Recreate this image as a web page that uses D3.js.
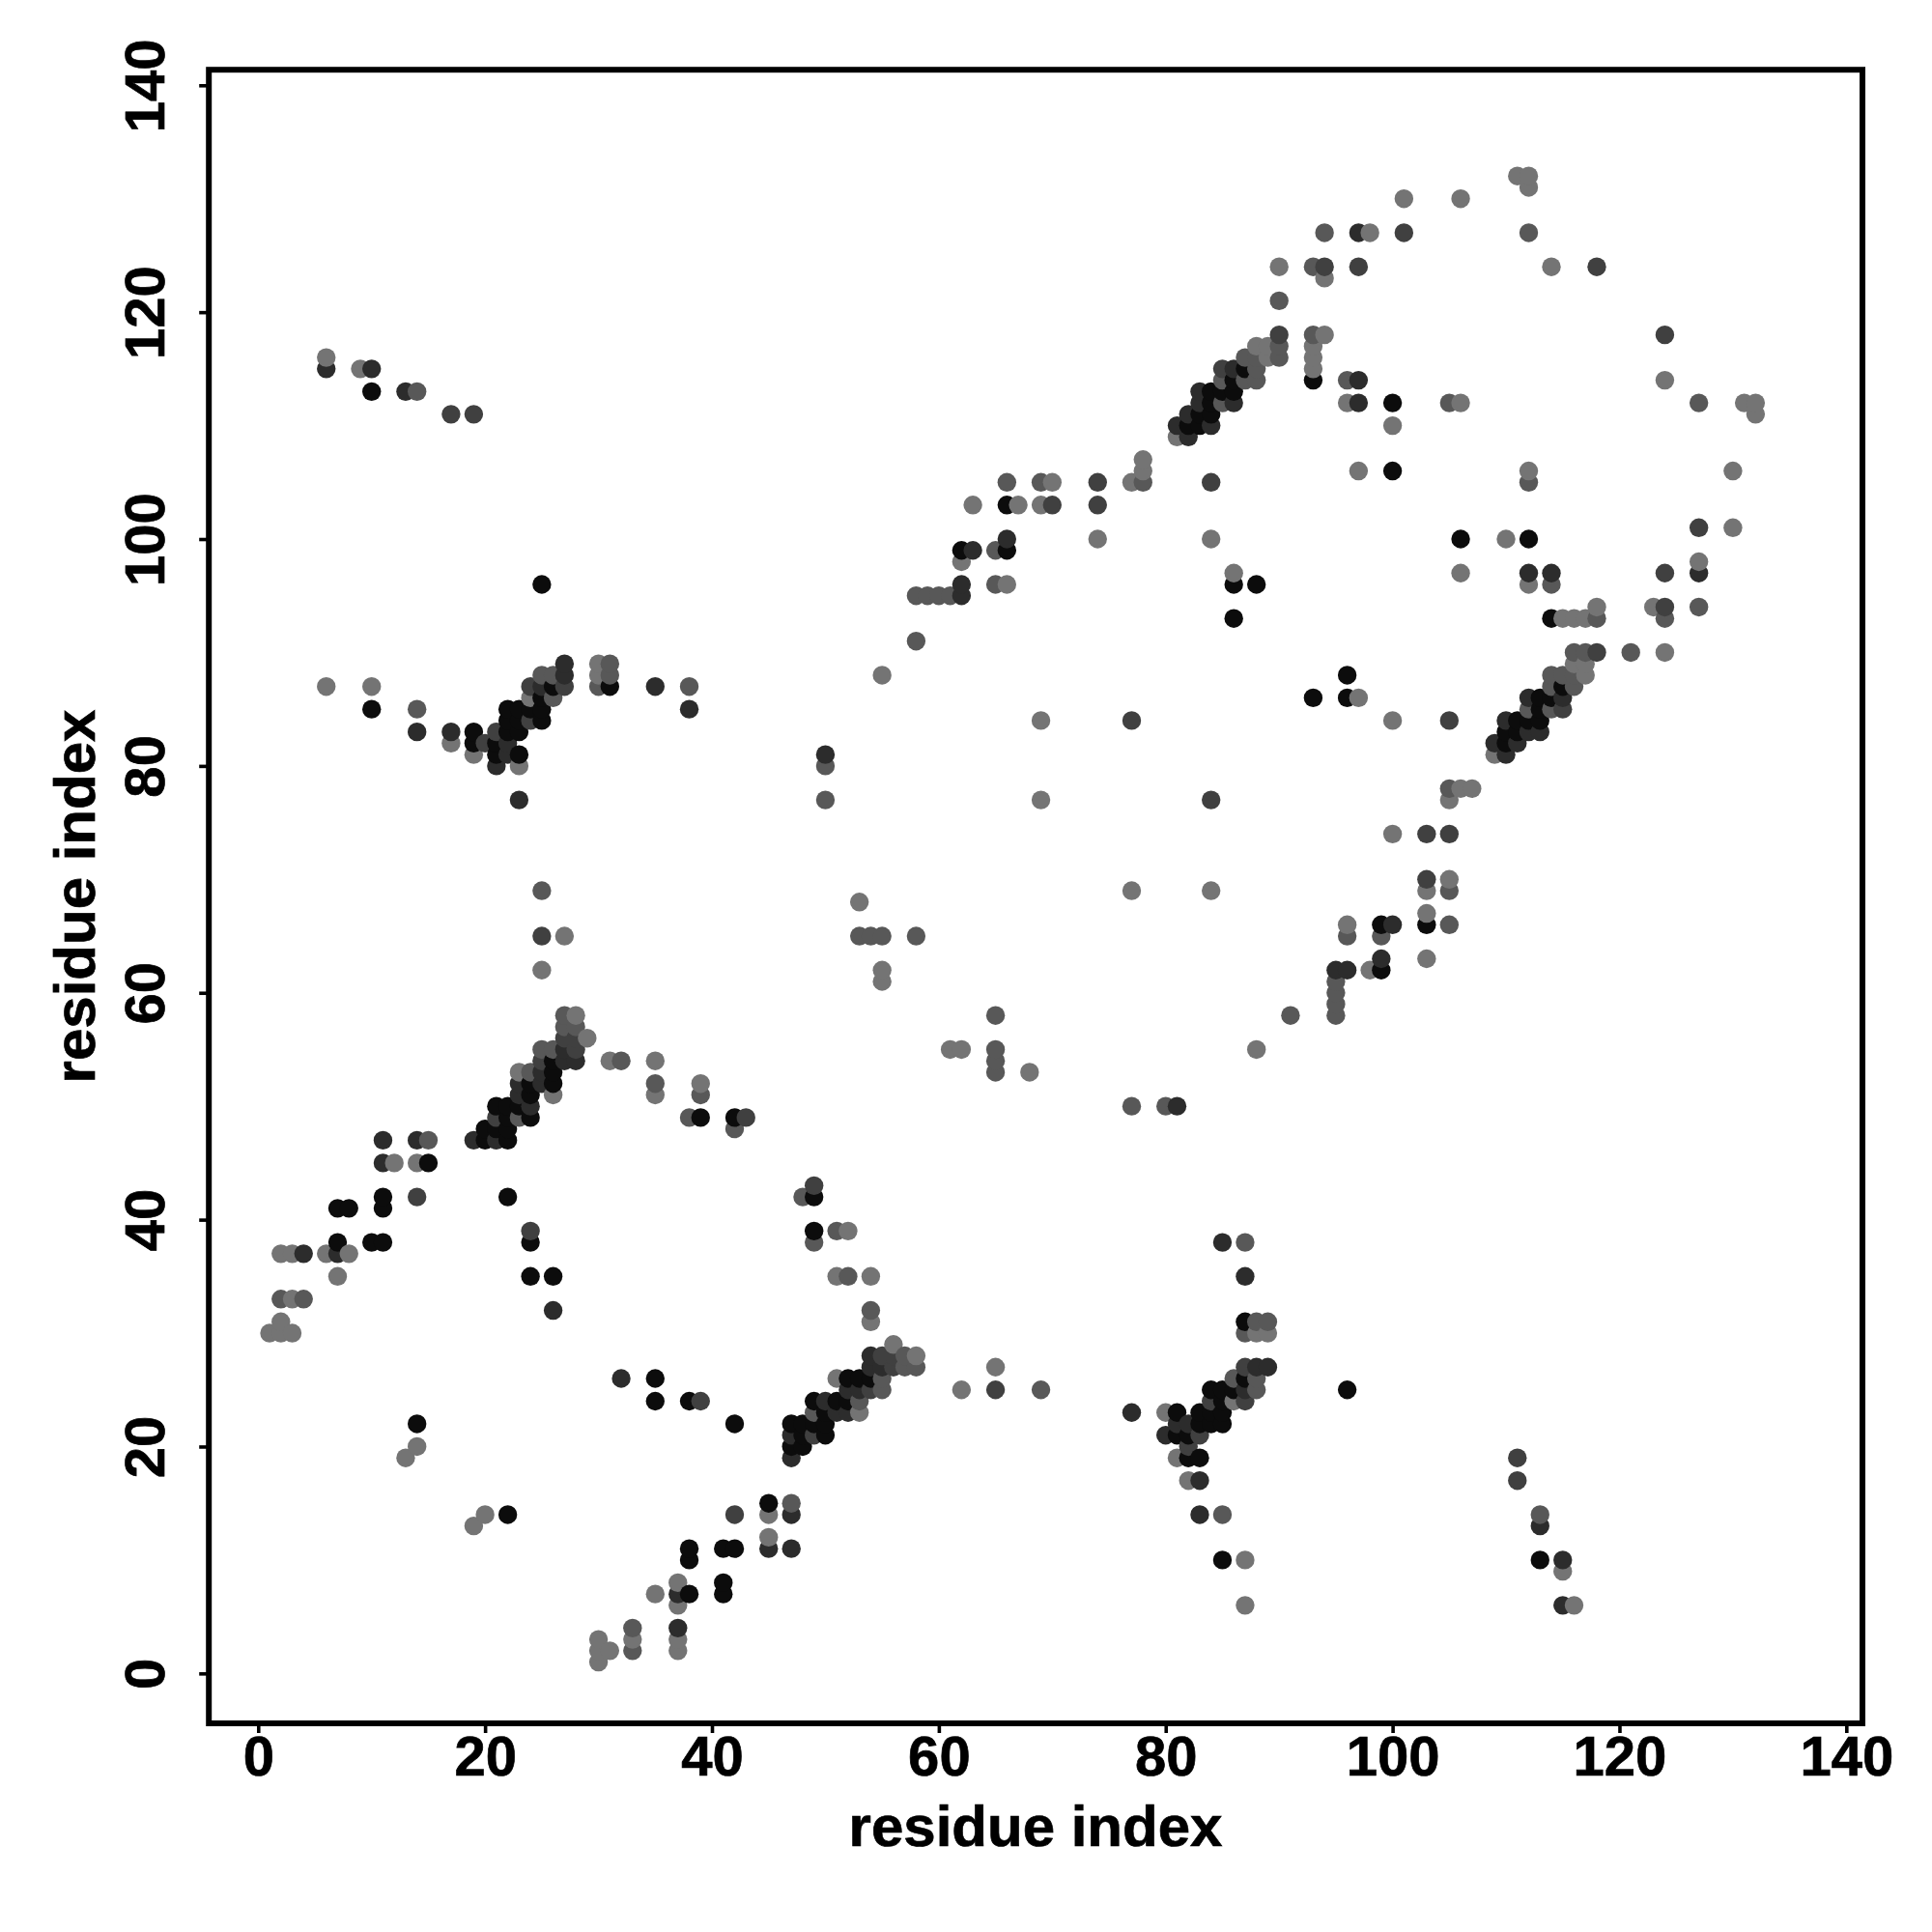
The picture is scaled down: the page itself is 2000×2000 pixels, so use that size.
<!DOCTYPE html>
<html><head><meta charset="utf-8">
<style>html,body{margin:0;padding:0;background:#fff}svg{display:block}</style>
<script src="https://cdn.jsdelivr.net/npm/d3@7"></script>
</head><body><svg id="c" width="2000" height="2000"></svg>
<script>
// Each contact: [residue i, residue j, intensity level] with i<j; the map is symmetric.
const contactsScattered = [
[1,30,4],[2,30,4],[3,30,4],[2,31,4],[2,33,3],[3,33,4],[4,33,3],[2,37,4],[3,37,4],[4,37,1],[6,37,4],[7,37,1],[8,37,4],[7,35,4],[7,38,0],[7,41,0],[8,41,0],[10,38,0],[11,38,0],[11,41,0],[11,42,0],[11,45,1],[12,45,4],[14,45,4],[15,45,0],[11,47,1],[14,47,1],[15,47,3],[14,42,2],[13,19,4],[14,20,4],[14,22,0],
[6,87,4],[10,87,4],[10,85,0],[14,85,3],[14,83,1],[25,96,0],[25,69,3],[25,65,2],[25,62,4],[27,65,4],[6,116,4],[6,115,1],[9,115,4],[10,115,1],[10,113,0],[13,113,1],[14,113,3],[17,111,2],[19,111,2],
[22,42,0],[24,39,2],[24,38,0],[24,35,0],[26,35,0],[26,32,1]];
const contactsClusterA = [
[17,83,1],[17,82,4],[19,83,0],[19,82,0],[19,81,4],[20,82,2],[21,83,2],[21,82,0],[21,81,0],[21,80,1],[22,85,0],[22,84,0],[22,83,0],[22,82,1],[22,81,1],[23,85,0],[23,84,0],[23,83,0],[23,81,0],[23,80,4],[23,77,1],[24,87,2],[24,86,4],[24,85,0],[24,84,2],[25,88,3],[25,87,1],[25,86,0],[25,85,0],[25,84,0],[26,88,3],[26,87,0],[26,86,3],[27,89,1],[27,88,1],[27,87,2],
[30,89,4],[30,88,4],[30,87,3],[31,89,3],[31,88,3],[31,87,0],[35,87,1],[38,87,3],[38,85,1]];
const contactsClusterB = [
[19,47,1],[20,47,0],[20,48,0],[21,47,1],[21,48,0],[21,49,2],[21,50,0],[22,47,0],[22,48,0],[22,49,0],[22,50,0],[23,49,3],[23,50,0],[23,51,1],[23,52,1],[23,53,4],[24,49,0],[24,50,1],[24,51,0],[24,52,0],[24,53,3],[25,52,1],[25,53,1],[25,54,2],[25,55,3],[26,51,4],[26,52,0],[26,53,0],[26,54,0],[26,55,3],[27,54,1],[27,55,1],[27,56,2],[27,57,3],[27,58,3],[28,54,1],[28,55,2],[28,56,2],[28,57,3],[28,58,4],[29,56,4],
[31,54,4],[32,54,3],[35,54,4],[35,52,3],[35,51,4],[38,49,3],[39,49,0],[39,51,3],[39,52,4],[42,48,3],[42,49,0],[43,49,2]];
const contactsMiddle = [
[50,81,1],[50,80,3],[50,77,3],[55,88,4],[58,91,3],[58,95,3],[59,95,3],[60,95,3],[61,95,3],[62,95,1],[62,96,1],[62,98,4],[62,99,0],[63,99,1],[63,103,4],[65,99,3],[66,99,0],[66,100,1],[65,96,3],[66,96,4],[66,103,0],[67,103,4],[66,105,3],[69,103,4],[70,103,2],[69,105,3],[70,105,4],[74,105,2],[74,103,2],[74,100,4],[77,105,4],[78,105,3],[78,106,4],[78,107,4],[84,105,2],[84,100,4],[86,97,4],[86,96,0],[88,96,0],[86,93,0],
[53,68,4],[53,65,3],[54,65,3],[55,65,3],[58,65,3],[55,62,4],[55,61,4],[69,84,4],[77,84,2],[69,77,4]];
const contactsClusterD = [
[81,110,1],[81,109,4],[82,111,1],[82,110,0],[82,109,1],[83,113,1],[83,112,1],[83,111,0],[83,110,0],[84,113,0],[84,112,0],[84,111,0],[84,110,1],[85,115,2],[85,114,3],[85,113,0],[85,112,3],[86,115,1],[86,114,0],[86,113,0],[86,112,1],[87,116,3],[87,115,0],[87,114,3],[88,117,4],[88,116,3],[88,115,3],[88,114,3],[89,117,4],[89,116,4],[90,118,2],[90,117,3],[90,116,3]];
const contactsCTerm = [
[93,118,3],[94,118,4],[93,117,4],[93,116,4],[93,115,4],[93,114,0],[90,121,3],[90,124,4],[93,124,3],[94,124,2],[94,123,4],[94,127,3],[97,127,1],[98,127,4],[97,124,2],[101,127,2],[101,130,4],[106,130,4],[111,132,4],[112,132,4],[112,131,4],[112,127,3],[114,124,4],[118,124,2],
[96,114,3],[97,114,1],[96,112,4],[97,112,1],[100,112,0],[100,110,4],[97,106,4],[100,106,0],[105,112,3],[106,112,4]];
const levelGrey = ["#0c0c0c","#2c2c2c","#404040","#585858","#747474"];
const tickValues = [0,20,40,60,80,100,120,140];
const axisTitle = "residue index";

const contacts = [...contactsScattered,...contactsClusterA,...contactsClusterB,...contactsMiddle,...contactsClusterD,...contactsCTerm];
const points = contacts.flatMap(([i,j,s])=>[{x:i,y:j,s},{x:j,y:i,s}]);
points.sort((a,b)=>d3.ascending(a.x,b.x)||d3.ascending(a.y,b.y));

const L=216.2,R=1928,T=72.2,B=1784;
const x=d3.scaleLinear().domain([-4.35,141.42]).range([L,R]);
const y=d3.scaleLinear().domain([-4.40,141.37]).range([B,T]);
const svg=d3.select("#c");
const font="'Liberation Sans',Arial,Helvetica,sans-serif";

svg.append("g").selectAll("circle").data(points).join("circle")
 .attr("cx",d=>x(d.x)).attr("cy",d=>y(d.y)).attr("r",9.7)
 .attr("fill",d=>levelGrey[d.s]);

svg.append("rect").attr("x",L).attr("y",T).attr("width",R-L).attr("height",B-T)
 .attr("fill","none").attr("stroke","#000").attr("stroke-width",6);

const gx=svg.append("g").attr("transform",`translate(0,${B})`)
 .call(d3.axisBottom(x).tickValues(tickValues).tickSize(10).tickPadding(6));
const gy=svg.append("g").attr("transform",`translate(${L},0)`)
 .call(d3.axisLeft(y).tickValues(tickValues).tickSize(10).tickPadding(0));
[gx,gy].forEach(g=>{g.select(".domain").remove();
 g.selectAll("line").attr("stroke","#000").attr("stroke-width",3.6);
 g.selectAll("text").attr("font-family",font).attr("font-weight","bold").attr("font-size",58).attr("fill","#000")
  .attr("stroke","#000").attr("stroke-width",0.7);});
gx.selectAll("text").attr("dy",null).attr("text-anchor","middle").attr("y",54);
gy.selectAll("text").attr("x",0).attr("y",0).attr("dy",null).attr("text-anchor","middle")
 .attr("transform","translate(-46,0) rotate(-90)");

svg.append("text").attr("x",1072).attr("y",1911).attr("text-anchor","middle")
 .attr("font-family",font).attr("font-weight","bold").attr("font-size",60)
 .attr("stroke","#000").attr("stroke-width",0.7).text(axisTitle);
svg.append("text").attr("transform","translate(98,928) rotate(-90)").attr("text-anchor","middle")
 .attr("font-family",font).attr("font-weight","bold").attr("font-size",60)
 .attr("stroke","#000").attr("stroke-width",0.7).text(axisTitle);
</script></body></html>
